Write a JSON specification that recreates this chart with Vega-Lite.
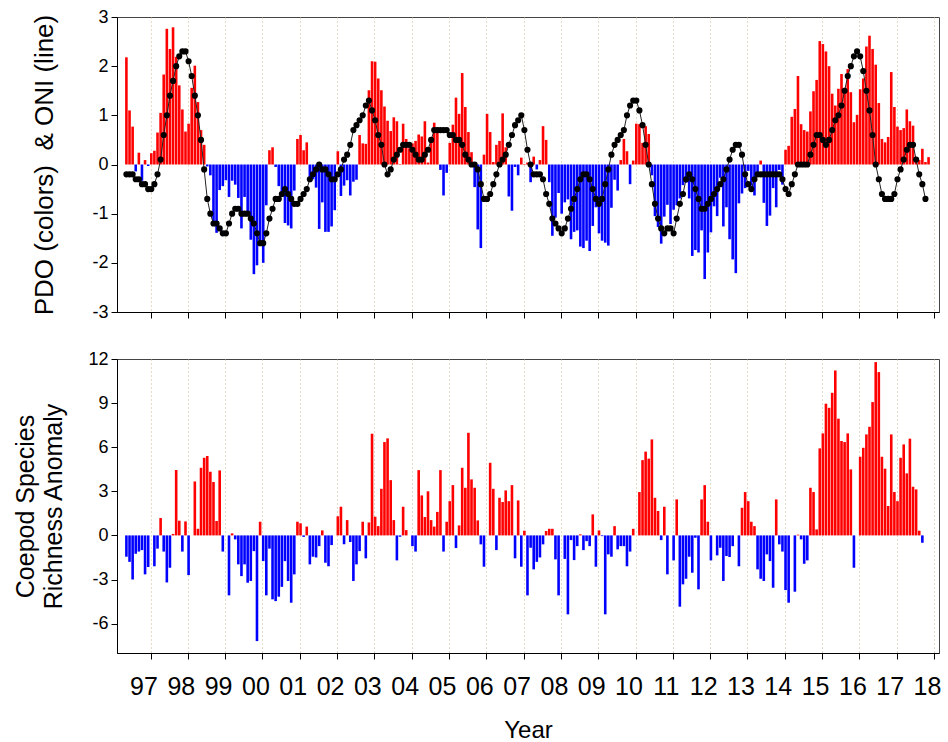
{
"$schema": "https://vega.github.io/schema/vega-lite/v6.json",
"padding": {"left": 13, "top": 7, "right": 1, "bottom": 1},
"spacing": 27,
"config": {
  "font": "Liberation Sans",
  "view": {"stroke": "#444", "strokeWidth": 1},
  "axis": {"labelFont": "Liberation Sans", "titleFont": "Liberation Sans", "labelColor": "#000", "titleColor": "#000", "domainColor": "#000", "tickColor": "#000", "titleFontWeight": "normal", "labelFontSize": 18, "tickSize": 6, "grid": false, "labelPadding": 3}
},
"datasets": {"m": [
{"t":1996.354,"p":2.18,"o":-0.2,"c":-1.45},{"t":1996.438,"p":1.10,"o":-0.2,"c":-1.8},{"t":1996.521,"p":0.77,"o":-0.2,"c":-3.0},{"t":1996.604,"p":-0.14,"o":-0.3,"c":-1.25},{"t":1996.688,"p":0.24,"o":-0.3,"c":-1.1},{"t":1996.771,"p":-0.33,"o":-0.4,"c":-1.0},{"t":1996.854,"p":0.09,"o":-0.4,"c":-2.65},{"t":1996.938,"p":-0.03,"o":-0.5,"c":-2.15},
{"t":1997.021,"p":0.23,"o":-0.5},{"t":1997.104,"p":0.28,"o":-0.4,"c":-2.1},{"t":1997.188,"p":0.65,"o":-0.2,"c":-0.9},{"t":1997.271,"p":1.05,"o":0.1,"c":1.18},{"t":1997.354,"p":1.83,"o":0.6,"c":-1.1},{"t":1997.438,"p":2.76,"o":1.0,"c":-3.2},{"t":1997.521,"p":2.35,"o":1.4,"c":-2.2},{"t":1997.604,"p":2.79,"o":1.7,"c":0.1},{"t":1997.688,"p":2.19,"o":2.0,"c":4.45},{"t":1997.771,"p":1.61,"o":2.2,"c":1.0},{"t":1997.854,"p":1.12,"o":2.3,"c":-1.1},{"t":1997.938,"p":0.67,"o":2.3,"c":0.95},
{"t":1998.021,"p":0.83,"o":2.1,"c":-2.7},{"t":1998.104,"p":1.56,"o":1.8},{"t":1998.188,"p":2.01,"o":1.4,"c":3.67},{"t":1998.271,"p":1.27,"o":1.0,"c":0.45},{"t":1998.354,"p":0.70,"o":0.5,"c":4.6},{"t":1998.438,"p":0.40,"o":-0.1,"c":5.28},{"t":1998.521,"p":-0.04,"o":-0.7,"c":5.4},{"t":1998.604,"p":-0.22,"o":-1.0,"c":4.33},{"t":1998.688,"p":-1.21,"o":-1.2,"c":3.63},{"t":1998.771,"p":-1.39,"o":-1.2,"c":0.98},{"t":1998.854,"p":-0.52,"o":-1.3,"c":4.42},{"t":1998.938,"p":-0.44,"o":-1.4,"c":-1.1},
{"t":1999.021,"p":-0.32,"o":-1.4},{"t":1999.104,"p":-0.66,"o":-1.2,"c":-4.08},{"t":1999.188,"p":-0.33,"o":-1.0,"c":0.14},{"t":1999.271,"p":-0.41,"o":-0.9,"c":-0.27},{"t":1999.354,"p":-0.68,"o":-0.9,"c":-1.97},{"t":1999.438,"p":-1.30,"o":-1.0,"c":-2.77},{"t":1999.521,"p":-0.66,"o":-1.0,"c":-1.97},{"t":1999.604,"p":-0.96,"o":-1.0,"c":-3.22},{"t":1999.688,"p":-1.53,"o":-1.1,"c":-3.1},{"t":1999.771,"p":-2.23,"o":-1.2,"c":-1.07},{"t":1999.854,"p":-2.05,"o":-1.4,"c":-7.19},{"t":1999.938,"p":-1.63,"o":-1.6,"c":0.93},
{"t":2000.021,"p":-2.00,"o":-1.6,"c":-1.75},{"t":2000.104,"p":-0.83,"o":-1.4,"c":-4.08},{"t":2000.188,"p":0.29,"o":-1.1,"c":-0.9},{"t":2000.271,"p":0.35,"o":-0.9,"c":-4.35},{"t":2000.354,"p":-0.05,"o":-0.7,"c":-4.47},{"t":2000.438,"p":-0.44,"o":-0.7,"c":-4.17},{"t":2000.521,"p":-0.66,"o":-0.6,"c":-3.5},{"t":2000.604,"p":-1.19,"o":-0.5,"c":-1.75},{"t":2000.688,"p":-1.24,"o":-0.6,"c":-3.1},{"t":2000.771,"p":-1.30,"o":-0.7,"c":-4.58},{"t":2000.854,"p":-0.53,"o":-0.8,"c":-2.65},{"t":2000.938,"p":0.52,"o":-0.8,"c":0.93},
{"t":2001.021,"p":0.60,"o":-0.7,"c":0.82},{"t":2001.104,"p":0.29,"o":-0.6,"c":-0.1},{"t":2001.188,"p":0.45,"o":-0.5,"c":0.6},{"t":2001.271,"p":-0.31,"o":-0.3,"c":-1.97},{"t":2001.354,"p":-0.30,"o":-0.2,"c":-1.45},{"t":2001.438,"p":-0.47,"o":-0.1,"c":-1.5},{"t":2001.521,"p":-1.31,"o":0.0,"c":-0.73},{"t":2001.604,"p":-0.77,"o":-0.1,"c":0.34},{"t":2001.688,"p":-1.37,"o":-0.1,"c":-1.86},{"t":2001.771,"p":-1.37,"o":-0.2,"c":-2.1},{"t":2001.854,"p":-1.26,"o":-0.3,"c":-0.66},{"t":2001.938,"p":-0.93,"o":-0.3},
{"t":2002.021,"p":0.27,"o":-0.2,"c":1.3},{"t":2002.104,"p":-0.64,"o":-0.1,"c":1.95},{"t":2002.188,"p":-0.43,"o":0.1,"c":-0.6},{"t":2002.271,"p":-0.32,"o":0.2,"c":1.04},{"t":2002.354,"p":-0.63,"o":0.4,"c":-0.45},{"t":2002.438,"p":-0.35,"o":0.7,"c":-3.1},{"t":2002.521,"p":-0.31,"o":0.8,"c":-1.97},{"t":2002.604,"p":0.60,"o":0.9,"c":-1.07},{"t":2002.688,"p":0.43,"o":1.0,"c":0.93},{"t":2002.771,"p":0.42,"o":1.2,"c":-1.56},{"t":2002.854,"p":1.51,"o":1.3,"c":0.88},{"t":2002.938,"p":2.10,"o":1.1,"c":6.92},
{"t":2003.021,"p":2.09,"o":0.9,"c":1.27},{"t":2003.104,"p":1.75,"o":0.6,"c":0.63},{"t":2003.188,"p":1.51,"o":0.4,"c":3.17},{"t":2003.271,"p":1.18,"o":0.0,"c":6.35},{"t":2003.354,"p":0.89,"o":-0.2,"c":6.6},{"t":2003.438,"p":0.68,"o":-0.1,"c":3.76},{"t":2003.521,"p":0.96,"o":0.1,"c":1.04},{"t":2003.604,"p":0.88,"o":0.2,"c":-1.7},{"t":2003.688,"p":0.01,"o":0.3,"c":-0.09},{"t":2003.771,"p":0.83,"o":0.4,"c":1.95},{"t":2003.854,"p":0.52,"o":0.4,"c":0.36},{"t":2003.938,"p":0.33,"o":0.4},
{"t":2004.021,"p":0.43,"o":0.3,"c":-0.73},{"t":2004.104,"p":0.48,"o":0.2,"c":-1.1},{"t":2004.188,"p":0.61,"o":0.1,"c":4.44},{"t":2004.271,"p":0.57,"o":0.1,"c":2.72},{"t":2004.354,"p":0.88,"o":0.2,"c":1.25},{"t":2004.438,"p":0.04,"o":0.3,"c":3.0},{"t":2004.521,"p":0.44,"o":0.5,"c":1.04},{"t":2004.604,"p":0.85,"o":0.7,"c":0.6},{"t":2004.688,"p":0.75,"o":0.7,"c":1.6},{"t":2004.771,"p":-0.11,"o":0.7,"c":4.44},{"t":2004.854,"p":-0.63,"o":0.7,"c":-1.1},{"t":2004.938,"p":-0.17,"o":0.7,"c":0.93},
{"t":2005.021,"p":0.44,"o":0.6,"c":2.33},{"t":2005.104,"p":0.81,"o":0.6,"c":3.42},{"t":2005.188,"p":1.36,"o":0.5,"c":-0.86},{"t":2005.271,"p":1.03,"o":0.5,"c":0.68},{"t":2005.354,"p":1.86,"o":0.4,"c":4.6},{"t":2005.438,"p":1.17,"o":0.2,"c":3.24},{"t":2005.521,"p":0.66,"o":0.1,"c":6.98},{"t":2005.604,"p":0.25,"o":0.0,"c":3.81},{"t":2005.688,"p":-0.46,"o":0.0,"c":3.24},{"t":2005.771,"p":-1.32,"o":-0.1,"c":1.02},{"t":2005.854,"p":-1.70,"o":-0.4,"c":-0.61},{"t":2005.938,"p":0.20,"o":-0.7,"c":-2.13},
{"t":2006.021,"p":1.03,"o":-0.7},{"t":2006.104,"p":0.66,"o":-0.6,"c":4.94},{"t":2006.188,"p":0.05,"o":-0.4,"c":3.17},{"t":2006.271,"p":0.40,"o":-0.2,"c":-1.0},{"t":2006.354,"p":0.48,"o":0.0,"c":2.56},{"t":2006.438,"p":1.04,"o":0.1,"c":2.27},{"t":2006.521,"p":0.35,"o":0.2,"c":3.06},{"t":2006.604,"p":-0.65,"o":0.4,"c":2.33},{"t":2006.688,"p":-0.94,"o":0.6,"c":3.42},{"t":2006.771,"p":-0.05,"o":0.8,"c":-1.56},{"t":2006.854,"p":-0.22,"o":0.9,"c":2.38},{"t":2006.938,"p":0.14,"o":1.0,"c":-2.13},
{"t":2007.021,"p":0.01,"o":0.7,"c":0.32},{"t":2007.104,"p":0.04,"o":0.3,"c":-4.08},{"t":2007.188,"p":-0.36,"o":0.0,"c":-0.84},{"t":2007.271,"p":0.16,"o":-0.2,"c":-2.31},{"t":2007.354,"p":-0.10,"o":-0.2,"c":-1.8},{"t":2007.438,"p":0.09,"o":-0.2,"c":-1.5},{"t":2007.521,"p":0.78,"o":-0.3,"c":-0.61},{"t":2007.604,"p":0.50,"o":-0.6,"c":0.3},{"t":2007.688,"p":-0.36,"o":-0.8,"c":0.45},{"t":2007.771,"p":-1.45,"o":-1.1,"c":0.45},{"t":2007.854,"p":-1.08,"o":-1.2,"c":-1.63},{"t":2007.938,"p":-0.58,"o":-1.3,"c":-4.08},
{"t":2008.021,"p":-1.00,"o":-1.4},{"t":2008.104,"p":-0.77,"o":-1.3,"c":-1.6},{"t":2008.188,"p":-0.71,"o":-1.1,"c":-5.37},{"t":2008.271,"p":-1.52,"o":-0.9,"c":-0.32},{"t":2008.354,"p":-1.37,"o":-0.7,"c":-1.68},{"t":2008.438,"p":-1.34,"o":-0.5,"c":-0.73},{"t":2008.521,"p":-1.67,"o":-0.3,"c":0.07},{"t":2008.604,"p":-1.70,"o":-0.2,"c":-1.0},{"t":2008.688,"p":-1.55,"o":-0.2,"c":-0.39},{"t":2008.771,"p":-1.76,"o":-0.3,"c":-0.73},{"t":2008.854,"p":-1.25,"o":-0.5,"c":1.43},{"t":2008.938,"p":-0.87,"o":-0.7,"c":-2.13},
{"t":2009.021,"p":-1.40,"o":-0.8,"c":0.34},{"t":2009.104,"p":-1.55,"o":-0.7,"c":-0.05},{"t":2009.188,"p":-1.59,"o":-0.4,"c":-5.37},{"t":2009.271,"p":-1.65,"o":-0.1,"c":-1.29},{"t":2009.354,"p":-0.88,"o":0.2,"c":-1.45},{"t":2009.438,"p":-0.31,"o":0.4,"c":0.63},{"t":2009.521,"p":-0.53,"o":0.5,"c":-0.95},{"t":2009.604,"p":0.09,"o":0.6,"c":-0.73},{"t":2009.688,"p":0.52,"o":0.7,"c":-0.73},{"t":2009.771,"p":0.27,"o":1.0,"c":-2.1},{"t":2009.854,"p":-0.40,"o":1.2,"c":-1.1},{"t":2009.938,"p":0.08,"o":1.3,"c":0.45},
{"t":2010.021,"p":0.83,"o":1.3},{"t":2010.104,"p":0.82,"o":1.1,"c":2.95},{"t":2010.188,"p":0.44,"o":0.8,"c":5.12},{"t":2010.271,"p":0.78,"o":0.4,"c":5.7},{"t":2010.354,"p":0.62,"o":0.0,"c":5.22},{"t":2010.438,"p":-0.22,"o":-0.4,"c":6.53},{"t":2010.521,"p":-1.05,"o":-0.8,"c":2.56},{"t":2010.604,"p":-1.27,"o":-1.1,"c":1.66},{"t":2010.688,"p":-1.61,"o":-1.3,"c":-0.32},{"t":2010.771,"p":-1.06,"o":-1.4,"c":1.95},{"t":2010.854,"p":-0.82,"o":-1.3,"c":-2.65},{"t":2010.938,"p":-1.21,"o":-1.3},
{"t":2011.021,"p":-0.92,"o":-1.4,"c":-1.7},{"t":2011.104,"p":-0.83,"o":-1.1,"c":2.45},{"t":2011.188,"p":-0.69,"o":-0.8,"c":-4.85},{"t":2011.271,"p":-0.42,"o":-0.6,"c":-3.33},{"t":2011.354,"p":-0.37,"o":-0.3,"c":-2.95},{"t":2011.438,"p":-0.69,"o":-0.2,"c":-1.45},{"t":2011.521,"p":-1.86,"o":-0.3,"c":-2.54},{"t":2011.604,"p":-1.74,"o":-0.5,"c":-0.16},{"t":2011.688,"p":-1.79,"o":-0.7,"c":-3.67},{"t":2011.771,"p":-1.34,"o":-0.9,"c":2.45},{"t":2011.854,"p":-2.33,"o":-0.9,"c":3.42},{"t":2011.938,"p":-1.79,"o":-0.8,"c":0.93},
{"t":2012.021,"p":-1.38,"o":-0.7,"c":-1.7},{"t":2012.104,"p":-0.85,"o":-0.6},{"t":2012.188,"p":-1.05,"o":-0.5,"c":-1.36},{"t":2012.271,"p":-0.27,"o":-0.4,"c":-0.84},{"t":2012.354,"p":-1.26,"o":-0.3,"c":-3.1},{"t":2012.438,"p":-0.87,"o":-0.1,"c":-1.4},{"t":2012.521,"p":-1.52,"o":0.1,"c":-1.47},{"t":2012.604,"p":-1.93,"o":0.3,"c":-0.73},{"t":2012.688,"p":-2.21,"o":0.4},{"t":2012.771,"p":-0.79,"o":0.4,"c":-2.1},{"t":2012.854,"p":-0.59,"o":0.2,"c":1.88},{"t":2012.938,"p":-0.48,"o":-0.2,"c":2.95},
{"t":2013.021,"p":-0.13,"o":-0.4,"c":2.33},{"t":2013.104,"p":-0.43,"o":-0.5,"c":0.93},{"t":2013.188,"p":-0.63,"o":-0.3,"c":0.63},{"t":2013.271,"p":-0.16,"o":-0.2,"c":-2.31},{"t":2013.354,"p":0.08,"o":-0.2,"c":-2.95},{"t":2013.438,"p":-0.78,"o":-0.2,"c":-3.1},{"t":2013.521,"p":-1.25,"o":-0.2,"c":-1.29},{"t":2013.604,"p":-1.04,"o":-0.2,"c":-1.75},{"t":2013.688,"p":-0.48,"o":-0.2,"c":-3.56},{"t":2013.771,"p":-0.87,"o":-0.2,"c":2.45},{"t":2013.854,"p":-0.11,"o":-0.2,"c":-0.61},{"t":2013.938,"p":-0.41,"o":-0.3,"c":-1.1},
{"t":2014.021,"p":0.30,"o":-0.5,"c":-3.72},{"t":2014.104,"p":0.38,"o":-0.6,"c":-4.58},{"t":2014.188,"p":0.97,"o":-0.4},{"t":2014.271,"p":1.13,"o":-0.2,"c":-3.83},{"t":2014.354,"p":1.80,"o":0.0,"c":0.05},{"t":2014.438,"p":0.82,"o":0.0,"c":-0.27},{"t":2014.521,"p":0.70,"o":0.0,"c":-1.93},{"t":2014.604,"p":0.67,"o":0.0,"c":-1.7},{"t":2014.688,"p":1.08,"o":0.2,"c":3.24},{"t":2014.771,"p":1.49,"o":0.4,"c":2.95},{"t":2014.854,"p":1.72,"o":0.6,"c":0.41},{"t":2014.938,"p":2.51,"o":0.6,"c":5.92},
{"t":2015.021,"p":2.45,"o":0.5,"c":6.94},{"t":2015.104,"p":2.30,"o":0.4,"c":8.96},{"t":2015.188,"p":2.00,"o":0.5,"c":8.68},{"t":2015.271,"p":1.44,"o":0.7,"c":9.7},{"t":2015.354,"p":1.20,"o":0.9,"c":11.22},{"t":2015.438,"p":1.54,"o":1.0,"c":7.94},{"t":2015.521,"p":1.84,"o":1.2,"c":6.42},{"t":2015.604,"p":1.56,"o":1.5,"c":6.35},{"t":2015.688,"p":1.94,"o":1.8,"c":6.94},{"t":2015.771,"p":1.47,"o":2.0,"c":4.49},{"t":2015.854,"p":0.86,"o":2.2,"c":-2.2},{"t":2015.938,"p":1.01,"o":2.3},
{"t":2016.021,"p":1.53,"o":2.2,"c":5.35},{"t":2016.104,"p":1.75,"o":1.9,"c":5.96},{"t":2016.188,"p":2.40,"o":1.5,"c":6.87},{"t":2016.271,"p":2.62,"o":1.1,"c":7.39},{"t":2016.354,"p":2.35,"o":0.6,"c":9.07},{"t":2016.438,"p":2.03,"o":0.0,"c":11.79},{"t":2016.521,"p":1.25,"o":-0.3,"c":11.11},{"t":2016.604,"p":0.52,"o":-0.6,"c":5.35},{"t":2016.688,"p":0.45,"o":-0.7,"c":4.54},{"t":2016.771,"p":0.56,"o":-0.7,"c":2.0},{"t":2016.854,"p":1.88,"o":-0.7,"c":6.87},{"t":2016.938,"p":1.17,"o":-0.6,"c":2.95},
{"t":2017.021,"p":0.77,"o":-0.3,"c":2.33},{"t":2017.104,"p":0.70,"o":-0.1,"c":5.28},{"t":2017.188,"p":0.74,"o":0.1,"c":6.19},{"t":2017.271,"p":1.12,"o":0.3,"c":4.22},{"t":2017.354,"p":0.88,"o":0.4,"c":6.58},{"t":2017.438,"p":0.79,"o":0.4,"c":3.31},{"t":2017.521,"p":0.10,"o":0.1,"c":3.13},{"t":2017.604,"p":0.09,"o":-0.2,"c":0.32},{"t":2017.688,"p":0.32,"o":-0.4,"c":-0.5},{"t":2017.771,"p":0.05,"o":-0.7},{"t":2017.854,"p":0.15}
]},
"vconcat": [
  {
    "width": 822, "height": 295,
    "data": {"name": "m"},
    "encoding": {
      "x": {"field": "t", "type": "quantitative",
        "scale": {"domain": [1996.236, 2018], "nice": false, "zero": false},
        "axis": {"values": [1997,1998,1999,2000,2001,2002,2003,2004,2005,2006,2007,2008,2009,2010,2011,2012,2013,2014,2015,2016,2017,2018], "labels": false, "title": null, "grid": true, "gridColor": "#c8b98c", "gridDash": [1, 3], "gridWidth": 1}}
    },
    "layer": [
      {"transform": [{"filter": "isValid(datum.p)"}],
       "mark": {"type": "bar", "width": 2.6},
       "encoding": {
         "y": {"field": "p", "type": "quantitative", "title": "PDO (colors)\u00a0 & ONI (line)", "scale": {"domain": [-3, 3], "nice": false},
           "axis": {"values": [-3,-2,-1,0,1,2,3], "labelExpr": "toString(datum.value)", "titleFontSize": 26, "titlePadding": 34}},
         "color": {"condition": {"test": "datum.p >= 0", "value": "#ff0000"}, "value": "#0000ff"}
       }},
      {"mark": {"type": "rule", "color": "#000", "strokeWidth": 1.5},
       "encoding": {"y": {"datum": 0, "type": "quantitative", "title": "PDO (colors)\u00a0 & ONI (line)"}}},
      {"transform": [{"filter": "isValid(datum.o)"}],
       "mark": {"type": "line", "color": "#222", "strokeWidth": 1},
       "encoding": {"y": {"field": "o", "type": "quantitative", "title": "PDO (colors)\u00a0 & ONI (line)"}}},
      {"transform": [{"filter": "isValid(datum.o)"}],
       "mark": {"type": "point", "filled": true, "color": "#000", "size": 38, "opacity": 1},
       "encoding": {"y": {"field": "o", "type": "quantitative", "title": "PDO (colors)\u00a0 & ONI (line)"}}}
    ]
  },
  {
    "width": 822, "height": 294,
    "data": {"name": "m"},
    "encoding": {
      "x": {"field": "t", "type": "quantitative",
        "scale": {"domain": [1996.236, 2018], "nice": false, "zero": false},
        "axis": {"values": [1997,1998,1999,2000,2001,2002,2003,2004,2005,2006,2007,2008,2009,2010,2011,2012,2013,2014,2015,2016,2017,2018],
          "labelExpr": "substring(toString(datum.value), 2, 4)", "labelFontSize": 25, "labelOffset": -7, "labelPadding": 15, "labelFlush": false, "labelOverlap": false,
          "title": "Year", "titleFontSize": 24, "titlePadding": 19,
          "grid": true, "gridColor": "#c8b98c", "gridDash": [1, 3], "gridWidth": 1}}
    },
    "layer": [
      {"transform": [{"filter": "isValid(datum.c)"}],
       "mark": {"type": "bar", "width": 2.6},
       "encoding": {
         "y": {"field": "c", "type": "quantitative", "title": ["Coepod Species", "Richness Anomaly"], "scale": {"domain": [-8, 12], "nice": false},
           "axis": {"values": [-6,-3,0,3,6,9,12], "labelExpr": "toString(datum.value)", "titleFontSize": 25, "titleLineHeight": 28, "titlePadding": 21}},
         "color": {"condition": {"test": "datum.c >= 0", "value": "#ff0000"}, "value": "#0000ff"}
       }},
      {"mark": {"type": "rule", "color": "#555", "strokeWidth": 1.5},
       "encoding": {"y": {"datum": 0, "type": "quantitative", "title": ["Coepod Species", "Richness Anomaly"]}}}
    ]
  }
]
}
